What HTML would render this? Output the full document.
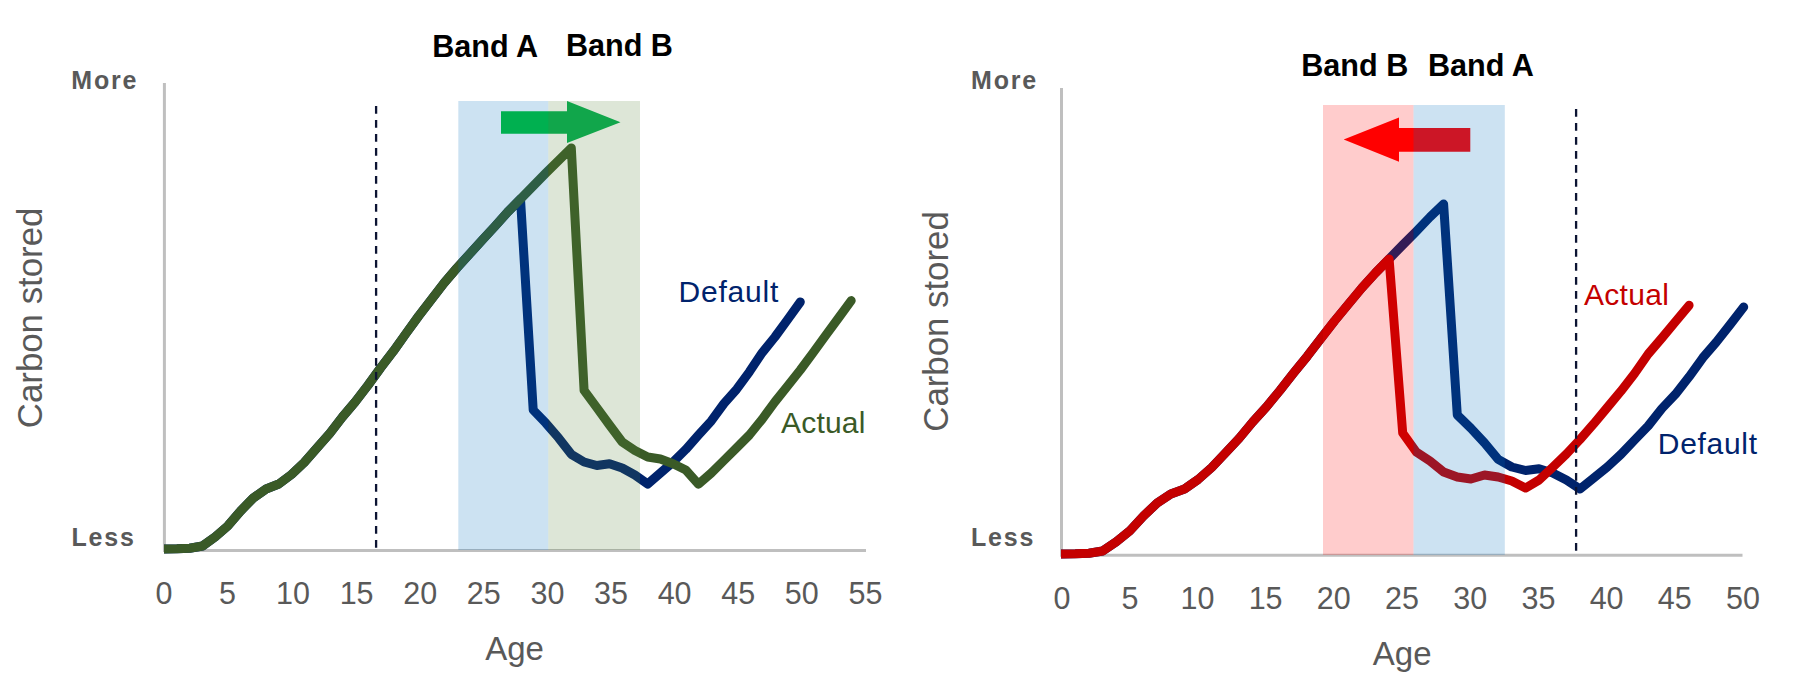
<!DOCTYPE html>
<html><head><meta charset="utf-8"><title>Carbon stored vs Age</title>
<style>
html,body{margin:0;padding:0;background:#fff;}
body{width:1795px;height:695px;overflow:hidden;font-family:"Liberation Sans",sans-serif;}
svg{display:block;}
</style></head><body>
<svg width="1795" height="695" viewBox="0 0 1795 695">
<defs><clipPath id="cl"><rect x="164" y="60" width="720" height="500"/></clipPath><clipPath id="cr"><rect x="1061" y="60" width="720" height="500"/></clipPath></defs>
<g class="left">
<line x1="164.4" y1="83" x2="164.4" y2="550.5" stroke="#bfbfbf" stroke-width="3"/>
<line x1="163" y1="550.5" x2="866" y2="550.5" stroke="#bfbfbf" stroke-width="3"/>
<g clip-path="url(#cl)" fill="none" stroke-width="9" stroke-linejoin="round" stroke-linecap="round">
<path d="M164.3,549.0 L177.0,548.8 L189.7,548.2 L202.5,546.0 L215.2,536.8 L227.9,525.8 L240.6,511.0 L253.3,498.0 L266.1,489.0 L278.8,484.0 L291.5,474.5 L304.2,462.5 L316.9,448.0 L329.7,433.5 L342.4,417.0 L355.1,402.0 L367.8,385.5 L380.5,368.0 L393.3,351.3 L406.0,333.5 L418.7,316.0 L431.4,299.5 L444.1,283.0 L456.9,268.0 L469.6,254.0 L482.3,240.0 L495.0,226.3 L507.7,212.0 L520.5,199.0 L533.2,410.0 L545.9,423.2 L558.6,437.9 L571.3,454.3 L584.1,462.0 L596.8,465.5 L609.5,463.8 L622.2,468.0 L634.9,475.0 L647.7,484.0 L660.4,473.0 L673.1,462.0 L685.8,449.4 L698.5,435.0 L711.3,420.9 L724.0,403.5 L736.7,389.2 L749.4,371.8 L762.1,352.8 L774.9,337.0 L787.6,319.6 L800.3,302.0" stroke="#00236c"/>
<path d="M164.3,549.0 L177.0,548.8 L189.7,548.2 L202.5,546.0 L215.2,536.8 L227.9,525.8 L240.6,511.0 L253.3,498.0 L266.1,489.0 L278.8,484.0 L291.5,474.5 L304.2,462.5 L316.9,448.0 L329.7,433.5 L342.4,417.0 L355.1,402.0 L367.8,385.5 L380.5,368.0 L393.3,351.3 L406.0,333.5 L418.7,316.0 L431.4,299.5 L444.1,283.0 L456.9,268.0 L469.6,254.0 L482.3,240.0 L495.0,226.3 L507.7,212.0 L520.5,199.0 L533.2,186.0 L545.9,173.0 L558.6,160.5 L571.3,148.0 L584.1,390.4 L596.8,407.6 L609.5,425.0 L622.2,442.0 L634.9,450.5 L647.7,457.0 L660.4,459.0 L673.1,463.8 L685.8,470.0 L698.5,484.2 L711.3,473.0 L724.0,460.4 L736.7,447.8 L749.4,435.0 L762.1,419.3 L774.9,401.9 L787.6,386.0 L800.3,370.0 L813.0,352.8 L825.7,335.4 L838.5,318.0 L851.2,300.6" stroke="#3a5a27"/>
</g>
<rect x="458.3" y="101" width="90" height="449" fill="rgb(0,112,192)" fill-opacity="0.2"/>
<path d="M501,111.2 L567,111.2 L567,101 L620.5,122.2 L567,143 L567,133.8 L501,133.8 Z" fill="#00b050"/>
<rect x="548.3" y="101" width="91.7" height="449" fill="rgb(84,130,53)" fill-opacity="0.2"/>
<line x1="376.1" y1="106" x2="376.1" y2="548" stroke="#0c1433" stroke-width="2.3" stroke-dasharray="7.7 6.3"/>
</g>
<g class="right">
<line x1="1061.5" y1="88" x2="1061.5" y2="555.3" stroke="#bfbfbf" stroke-width="3"/>
<line x1="1060" y1="555.3" x2="1742.5" y2="555.3" stroke="#bfbfbf" stroke-width="3"/>
<g clip-path="url(#cr)" fill="none" stroke-width="9" stroke-linejoin="round" stroke-linecap="round">
<path d="M1061.7,554.0 L1075.3,553.8 L1089.0,553.2 L1102.6,551.0 L1116.3,541.8 L1129.9,530.8 L1143.5,516.0 L1157.2,503.0 L1170.8,494.0 L1184.5,489.0 L1198.1,479.5 L1211.7,467.5 L1225.4,453.0 L1239.0,438.5 L1252.7,422.0 L1266.3,407.0 L1279.9,390.5 L1293.6,373.0 L1307.2,356.3 L1320.9,338.5 L1334.5,321.0 L1348.1,304.5 L1361.8,288.0 L1375.4,273.0 L1389.1,259.0 L1402.7,245.0 L1416.3,231.3 L1430.0,217.0 L1443.6,204.0 L1457.3,415.0 L1470.9,428.2 L1484.5,442.9 L1498.2,459.3 L1511.8,467.0 L1525.5,470.5 L1539.1,468.8 L1552.7,473.0 L1566.4,480.0 L1580.0,489.0 L1593.7,478.0 L1607.3,467.0 L1620.9,454.4 L1634.6,440.0 L1648.2,425.9 L1661.9,408.5 L1675.5,394.2 L1689.1,376.8 L1702.8,357.8 L1716.4,342.0 L1730.1,324.6 L1743.7,307.0" stroke="#00236c"/>
<path d="M1061.7,554.0 L1075.3,553.8 L1089.0,553.2 L1102.6,551.0 L1116.3,541.8 L1129.9,530.8 L1143.5,516.0 L1157.2,503.0 L1170.8,494.0 L1184.5,489.0 L1198.1,479.5 L1211.7,467.5 L1225.4,453.0 L1239.0,438.5 L1252.7,422.0 L1266.3,407.0 L1279.9,390.5 L1293.6,373.0 L1307.2,356.3 L1320.9,338.5 L1334.5,321.0 L1348.1,304.5 L1361.8,288.0 L1375.4,273.0 L1389.1,259.0 L1402.7,433.0 L1416.3,452.0 L1430.0,461.0 L1443.6,472.0 L1457.3,477.0 L1470.9,479.0 L1484.5,475.0 L1498.2,477.0 L1511.8,481.0 L1525.5,488.0 L1539.1,480.0 L1552.7,467.3 L1566.4,454.0 L1580.0,439.5 L1593.7,423.8 L1607.3,407.5 L1620.9,391.2 L1634.6,373.5 L1648.2,354.0 L1661.9,338.0 L1675.5,321.7 L1689.1,305.3" stroke="#c40000"/>
</g>
<rect x="1323" y="105" width="90.5" height="450" fill="rgb(255,0,0)" fill-opacity="0.2"/>
<path d="M1470.3,128 L1399,128 L1399,117.6 L1343.7,139.5 L1399,161.8 L1399,151.7 L1470.3,151.7 Z" fill="#ff0000"/>
<rect x="1413.5" y="105" width="91.3" height="450" fill="rgb(0,112,192)" fill-opacity="0.2"/>
<line x1="1576.1" y1="109" x2="1576.1" y2="553" stroke="#0c1433" stroke-width="2.3" stroke-dasharray="7.7 6.3"/>
</g>
<text x="71.3" y="89.2" font-family="Liberation Sans, sans-serif" font-size="25" font-weight="bold" fill="#595959" text-anchor="start" letter-spacing="1.8">More</text>
<text x="71.5" y="546" font-family="Liberation Sans, sans-serif" font-size="25" font-weight="bold" fill="#595959" text-anchor="start" letter-spacing="1.8">Less</text>
<text x="432.2" y="57" font-family="Liberation Sans, sans-serif" font-size="30.6" font-weight="bold" fill="#000" text-anchor="start" >Band A</text>
<text x="565.9" y="56.2" font-family="Liberation Sans, sans-serif" font-size="30.6" font-weight="bold" fill="#000" text-anchor="start" >Band B</text>
<text x="163.9" y="603.6" font-family="Liberation Sans, sans-serif" font-size="30.5" font-weight="normal" fill="#595959" text-anchor="middle" >0</text>
<text x="227.5" y="603.6" font-family="Liberation Sans, sans-serif" font-size="30.5" font-weight="normal" fill="#595959" text-anchor="middle" >5</text>
<text x="293.0" y="603.6" font-family="Liberation Sans, sans-serif" font-size="30.5" font-weight="normal" fill="#595959" text-anchor="middle" >10</text>
<text x="356.6" y="603.6" font-family="Liberation Sans, sans-serif" font-size="30.5" font-weight="normal" fill="#595959" text-anchor="middle" >15</text>
<text x="420.20000000000005" y="603.6" font-family="Liberation Sans, sans-serif" font-size="30.5" font-weight="normal" fill="#595959" text-anchor="middle" >20</text>
<text x="483.8" y="603.6" font-family="Liberation Sans, sans-serif" font-size="30.5" font-weight="normal" fill="#595959" text-anchor="middle" >25</text>
<text x="547.4000000000001" y="603.6" font-family="Liberation Sans, sans-serif" font-size="30.5" font-weight="normal" fill="#595959" text-anchor="middle" >30</text>
<text x="611.0" y="603.6" font-family="Liberation Sans, sans-serif" font-size="30.5" font-weight="normal" fill="#595959" text-anchor="middle" >35</text>
<text x="674.6" y="603.6" font-family="Liberation Sans, sans-serif" font-size="30.5" font-weight="normal" fill="#595959" text-anchor="middle" >40</text>
<text x="738.2" y="603.6" font-family="Liberation Sans, sans-serif" font-size="30.5" font-weight="normal" fill="#595959" text-anchor="middle" >45</text>
<text x="801.8" y="603.6" font-family="Liberation Sans, sans-serif" font-size="30.5" font-weight="normal" fill="#595959" text-anchor="middle" >50</text>
<text x="865.4000000000001" y="603.6" font-family="Liberation Sans, sans-serif" font-size="30.5" font-weight="normal" fill="#595959" text-anchor="middle" >55</text>
<text x="514.5" y="659.6" font-family="Liberation Sans, sans-serif" font-size="33" font-weight="normal" fill="#595959" text-anchor="middle" >Age</text>
<text transform="translate(42,317.9) rotate(-90)" font-family="Liberation Sans, sans-serif" font-size="34.8" fill="#595959" text-anchor="middle">Carbon stored</text>
<text x="678.5" y="302" font-family="Liberation Sans, sans-serif" font-size="30" font-weight="normal" fill="#00236c" text-anchor="start" letter-spacing="0.8">Default</text>
<text x="781" y="432.6" font-family="Liberation Sans, sans-serif" font-size="30" font-weight="normal" fill="#3a5a27" text-anchor="start" letter-spacing="0.2">Actual</text>
<text x="971" y="89.2" font-family="Liberation Sans, sans-serif" font-size="25" font-weight="bold" fill="#595959" text-anchor="start" letter-spacing="1.8">More</text>
<text x="971" y="546" font-family="Liberation Sans, sans-serif" font-size="25" font-weight="bold" fill="#595959" text-anchor="start" letter-spacing="1.8">Less</text>
<text x="1301.2" y="76.2" font-family="Liberation Sans, sans-serif" font-size="30.6" font-weight="bold" fill="#000" text-anchor="start" >Band B</text>
<text x="1428.0" y="76.2" font-family="Liberation Sans, sans-serif" font-size="30.6" font-weight="bold" fill="#000" text-anchor="start" >Band A</text>
<text x="1061.9" y="609" font-family="Liberation Sans, sans-serif" font-size="30.5" font-weight="normal" fill="#595959" text-anchor="middle" >0</text>
<text x="1130.1000000000001" y="609" font-family="Liberation Sans, sans-serif" font-size="30.5" font-weight="normal" fill="#595959" text-anchor="middle" >5</text>
<text x="1197.4" y="609" font-family="Liberation Sans, sans-serif" font-size="30.5" font-weight="normal" fill="#595959" text-anchor="middle" >10</text>
<text x="1265.6000000000001" y="609" font-family="Liberation Sans, sans-serif" font-size="30.5" font-weight="normal" fill="#595959" text-anchor="middle" >15</text>
<text x="1333.8" y="609" font-family="Liberation Sans, sans-serif" font-size="30.5" font-weight="normal" fill="#595959" text-anchor="middle" >20</text>
<text x="1402.0" y="609" font-family="Liberation Sans, sans-serif" font-size="30.5" font-weight="normal" fill="#595959" text-anchor="middle" >25</text>
<text x="1470.2" y="609" font-family="Liberation Sans, sans-serif" font-size="30.5" font-weight="normal" fill="#595959" text-anchor="middle" >30</text>
<text x="1538.4" y="609" font-family="Liberation Sans, sans-serif" font-size="30.5" font-weight="normal" fill="#595959" text-anchor="middle" >35</text>
<text x="1606.6000000000001" y="609" font-family="Liberation Sans, sans-serif" font-size="30.5" font-weight="normal" fill="#595959" text-anchor="middle" >40</text>
<text x="1674.8" y="609" font-family="Liberation Sans, sans-serif" font-size="30.5" font-weight="normal" fill="#595959" text-anchor="middle" >45</text>
<text x="1743.0" y="609" font-family="Liberation Sans, sans-serif" font-size="30.5" font-weight="normal" fill="#595959" text-anchor="middle" >50</text>
<text x="1402.2" y="665" font-family="Liberation Sans, sans-serif" font-size="33" font-weight="normal" fill="#595959" text-anchor="middle" >Age</text>
<text transform="translate(947.8,321.5) rotate(-90)" font-family="Liberation Sans, sans-serif" font-size="34.8" fill="#595959" text-anchor="middle">Carbon stored</text>
<text x="1584" y="305.3" font-family="Liberation Sans, sans-serif" font-size="30" font-weight="normal" fill="#c40000" text-anchor="start" letter-spacing="0.3">Actual</text>
<text x="1657.8" y="453.5" font-family="Liberation Sans, sans-serif" font-size="30" font-weight="normal" fill="#00236c" text-anchor="start" letter-spacing="0.7">Default</text>
</svg>
</body></html>
